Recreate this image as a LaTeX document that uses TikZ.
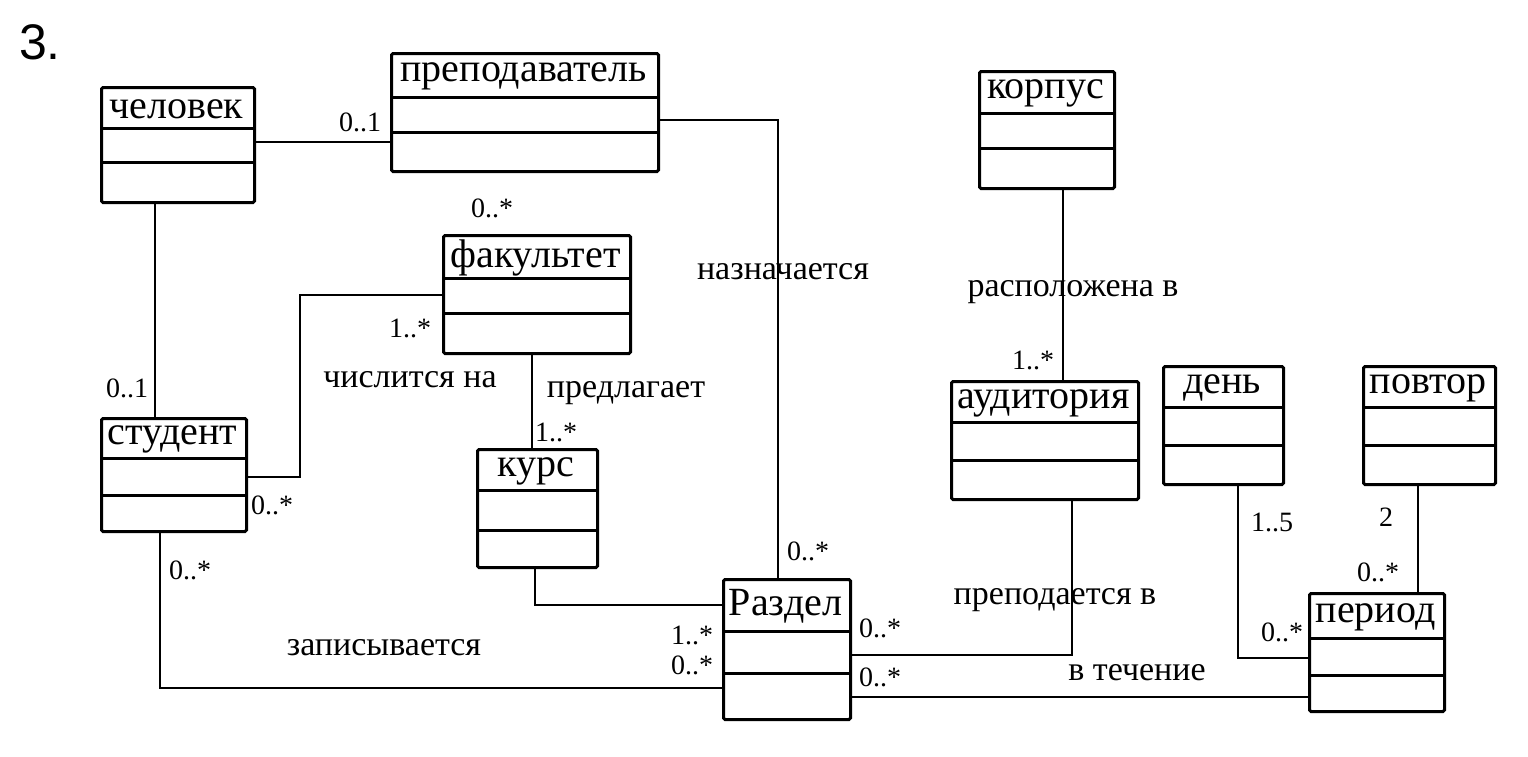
\documentclass[tikz,border=0pt]{standalone}
\usepackage{fontspec}
\setmainfont{Liberation Serif}
\newfontfamily\numfont{Liberation Sans}
\begin{document}
\begin{tikzpicture}[x=1pt,y=-1pt,
  cls/.style={draw,line width=3pt,rounded corners=1.5pt,inner sep=0pt},
  sep/.style={line width=3pt},
  conn/.style={line width=2.8pt},
  ttl/.style={inner sep=0pt,font=\fontsize{40}{44}\selectfont},
  lbl/.style={inner sep=0pt,font=\fontsize{34}{38}\selectfont},
  mult/.style={inner sep=0pt,font=\fontsize{28}{30}\selectfont}]
\useasboundingbox (0,0) rectangle (1528,756);
\newcommand\umlcls[8]{%
  \node[cls,anchor=north west,minimum width={#4-#2},minimum height={#5-#3}] (#1) at (#2,#3) {};
  \draw[sep] (#2,#6) -- (#4,#6);
  \draw[sep] (#2,#7) -- (#4,#7);
  \node[ttl] (#1-t) at ({(#2+#4)/2},{(#3+#6)/2+2}) {#8};
}
\node[inner sep=0pt,font=\numfont\fontsize{50}{54}\selectfont] (num) at (40,42) {3.};
% classes
\umlcls{chel}{100}{86}{253}{201}{128}{162}{человек}
\umlcls{prep}{390}{52}{657}{170}{97}{132}{преподаватель}
\umlcls{fak}{442}{234}{629}{352}{278}{313}{факультет}
\umlcls{stud}{100}{417}{245}{530}{458}{495}{студент}
\umlcls{kurs}{476}{448}{596}{566}{490}{530}{курс}
\umlcls{razd}{722}{578}{849}{718}{631}{673}{Раздел}
\umlcls{korp}{978}{70}{1113}{187}{113}{148}{корпус}
\umlcls{aud}{950}{380}{1137}{498}{422}{460}{аудитория}
\umlcls{den}{1162}{365}{1282}{483}{407}{445}{день}
\umlcls{povt}{1362}{365}{1494}{483}{407}{445}{повтор}
\umlcls{per}{1308}{592}{1443}{710}{638}{675}{период}
% connectors
\draw[conn] (chel.east |- 0,142) -- (prep.west |- 0,142);
\draw[conn] (chel.south -| 155,0) -- (stud.north -| 155,0);
\draw[conn] (fak.west |- 0,295) -| (300,477) -- (stud.east |- 0,477);
\draw[conn] (fak.south -| 532,0) -- (kurs.north -| 532,0);
\draw[conn] (kurs.south -| 535,0) |- (razd.west |- 0,605);
\draw[conn] (prep.east |- 0,120) -| (razd.north -| 778,0);
\draw[conn] (stud.south -| 160,0) |- (razd.west |- 0,688);
\draw[conn] (korp.south -| 1063,0) -- (aud.north -| 1063,0);
\draw[conn] (aud.south -| 1072,0) |- (razd.east |- 0,655);
\draw[conn] (den.south -| 1238,0) |- (per.west |- 0,658);
\draw[conn] (povt.south -| 1418,0) -- (per.north -| 1418,0);
\draw[conn] (razd.east |- 0,697) -- (per.west |- 0,697);
% labels
\node[mult] (m1) at (360,122) {0..1};
\node[mult] (m2) at (492,208) {0..*};
\node[mult] (m3) at (410,328) {1..*};
\node[lbl] (l1) at (410,380) {числится на};
\node[mult] (m4) at (272,505) {0..*};
\node[mult] (m5) at (127,388) {0..1};
\node[lbl] (l2) at (626,393) {предлагает};
\node[mult] (m6) at (556,432) {1..*};
\node[lbl] (l3) at (783,272) {назначается};
\node[mult] (m7) at (808,551) {0..*};
\node[mult] (m8) at (190,570) {0..*};
\node[lbl] (l4) at (384,648) {записывается};
\node[mult] (m9) at (692,635) {1..*};
\node[mult] (m10) at (692,665) {0..*};
\node[lbl] (l5) at (1073,292) {расположена в};
\node[mult] (m11) at (1033,360) {1..*};
\node[lbl] (l6) at (1055,600) {преподается в};
\node[mult] (m12) at (880,628) {0..*};
\node[mult] (m13) at (880,677) {0..*};
\node[lbl] (l7) at (1137,673) {в течение};
\node[mult] (m14) at (1272,522) {1..5};
\node[mult] (m15) at (1386,517) {2};
\node[mult] (m16) at (1378,572) {0..*};
\node[mult] (m17) at (1282,632) {0..*};
\end{tikzpicture}
\end{document}
